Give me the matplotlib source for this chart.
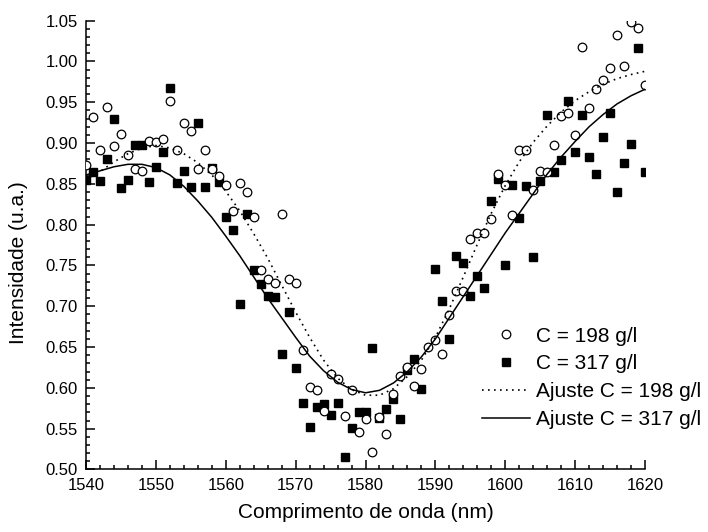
import matplotlib.pyplot as plt
from matplotlib.ticker import MultipleLocator
from matplotlib.lines import Line2D

plt.rcParams['font.family'] = ['Liberation Sans', 'DejaVu Sans']

# measured points, C = 198 g/l
wl_198 = [1540, 1541, 1542, 1543, 1544, 1545, 1546, 1547, 1548, 1549,
          1550, 1551, 1552, 1553, 1554, 1555, 1556, 1557, 1558, 1559,
          1560, 1561, 1562, 1563, 1564, 1565, 1566, 1567, 1568, 1569,
          1570, 1571, 1572, 1573, 1574, 1575, 1576, 1577, 1578, 1579,
          1580, 1581, 1582, 1583, 1584, 1585, 1586, 1587, 1588, 1589,
          1590, 1591, 1592, 1593, 1594, 1595, 1596, 1597, 1598, 1599,
          1600, 1601, 1602, 1603, 1604, 1605, 1606, 1607, 1608, 1609,
          1610, 1611, 1612, 1613, 1614, 1615, 1616, 1617, 1618, 1619,
          1620]
int_198 = [0.873, 0.932, 0.892, 0.944, 0.896, 0.911, 0.885, 0.868, 0.866, 0.903,
           0.901, 0.905, 0.951, 0.892, 0.925, 0.915, 0.868, 0.892, 0.868, 0.860,
           0.849, 0.817, 0.851, 0.840, 0.810, 0.745, 0.734, 0.728, 0.813, 0.733,
           0.729, 0.646, 0.601, 0.597, 0.572, 0.617, 0.611, 0.565, 0.598, 0.546,
           0.562, 0.521, 0.564, 0.543, 0.593, 0.615, 0.625, 0.602, 0.623, 0.650,
           0.659, 0.642, 0.689, 0.719, 0.719, 0.783, 0.790, 0.790, 0.807, 0.862,
           0.849, 0.812, 0.892, 0.892, 0.843, 0.866, 0.864, 0.898, 0.933, 0.937,
           0.910, 1.018, 0.943, 0.966, 0.977, 0.992, 1.032, 0.994, 1.048, 1.041,
           0.971]

# measured points, C = 317 g/l
wl_317 = [1540, 1541, 1542, 1543, 1544, 1545, 1546, 1547, 1548, 1549,
          1550, 1551, 1552, 1553, 1554, 1555, 1556, 1557, 1558, 1559,
          1560, 1561, 1562, 1563, 1564, 1565, 1566, 1567, 1568, 1569,
          1570, 1571, 1572, 1573, 1574, 1575, 1576, 1577, 1578, 1579,
          1580, 1581, 1582, 1583, 1584, 1585, 1586, 1587, 1588,
          1590, 1591, 1592, 1593, 1594, 1595, 1596, 1597, 1598, 1599,
          1600, 1601, 1602, 1603, 1604, 1605, 1606, 1607, 1608, 1609,
          1610, 1611, 1612, 1613, 1614, 1615, 1616, 1617, 1618, 1619,
          1620]
int_317 = [0.855, 0.865, 0.854, 0.880, 0.929, 0.845, 0.855, 0.898, 0.898, 0.852,
           0.871, 0.889, 0.967, 0.851, 0.866, 0.846, 0.925, 0.846, 0.870, 0.852,
           0.809, 0.794, 0.703, 0.813, 0.744, 0.727, 0.713, 0.711, 0.642, 0.693,
           0.624, 0.581, 0.552, 0.576, 0.580, 0.567, 0.581, 0.515, 0.551, 0.570,
           0.570, 0.649, 0.563, 0.574, 0.586, 0.562, 0.622, 0.635, 0.599,
           0.746, 0.706, 0.660, 0.762, 0.753, 0.712, 0.737, 0.723, 0.829, 0.856,
           0.750, 0.849, 0.808, 0.847, 0.761, 0.854, 0.934, 0.864, 0.879, 0.952,
           0.889, 0.935, 0.883, 0.862, 0.907, 0.937, 0.840, 0.875, 0.899, 1.016,
           0.864]

# fitted curves
fit_wl = [1540, 1542, 1544, 1546, 1548, 1550, 1552, 1554, 1556, 1558,
          1560, 1562, 1564, 1566, 1568, 1570, 1572, 1574, 1576, 1578,
          1580, 1582, 1584, 1586, 1588, 1590, 1592, 1594, 1596, 1598,
          1600, 1602, 1604, 1606, 1608, 1610, 1612, 1614, 1616, 1618,
          1620]
fit_198 = [0.855, 0.865, 0.877, 0.887, 0.894, 0.897, 0.894, 0.887, 0.876, 0.861,
           0.841, 0.817, 0.789, 0.759, 0.726, 0.693, 0.662, 0.634, 0.612, 0.598,
           0.591, 0.591, 0.599, 0.614, 0.634, 0.662, 0.697, 0.736, 0.776, 0.814,
           0.848, 0.877, 0.901, 0.921, 0.938, 0.952, 0.963, 0.972, 0.979, 0.984,
           0.988]
fit_317 = [0.861, 0.866, 0.871, 0.874, 0.874, 0.870, 0.861, 0.847, 0.829, 0.809,
           0.786, 0.762, 0.736, 0.710, 0.686, 0.662, 0.639, 0.621, 0.607, 0.598,
           0.594, 0.597, 0.606, 0.620, 0.638, 0.660, 0.686, 0.712, 0.738, 0.764,
           0.790, 0.814, 0.838, 0.862, 0.883, 0.902, 0.920, 0.935, 0.948, 0.958,
           0.966]

labels = ['C = 198 g/l', 'C = 317 g/l', 'Ajuste C = 198 g/l', 'Ajuste C = 317 g/l']

fig = plt.figure(figsize=(7.08, 5.32), dpi=100)
ax = fig.add_axes([0.1215, 0.1175, 0.7895, 0.8436])

ax.plot(wl_317, int_317, ls='none', marker='s', ms=5.4, mfc='black', mec='black', zorder=2)
ax.plot(wl_198, int_198, ls='none', marker='o', ms=6.2, mfc='white', mec='black', mew=0.9, zorder=3)
ax.plot(fit_wl, fit_198, color='black', lw=1.2, ls=(0, (1, 2.6)), zorder=4)
ax.plot(fit_wl, fit_317, color='black', lw=1.1, ls='-', zorder=4)

ax.set_xlim(1540, 1620)
ax.set_ylim(0.50, 1.05)
ax.xaxis.set_major_locator(MultipleLocator(10))
ax.xaxis.set_minor_locator(MultipleLocator(2))
ax.yaxis.set_major_locator(MultipleLocator(0.05))
ax.yaxis.set_minor_locator(MultipleLocator(0.01))
ax.yaxis.set_major_formatter(plt.FormatStrFormatter('%.2f'))

for side in ['top', 'right']:
    ax.spines[side].set_visible(False)
for side in ['left', 'bottom']:
    ax.spines[side].set_linewidth(1.1)

ax.tick_params(which='both', direction='in', top=False, right=False, width=1.1, labelsize=12)
ax.tick_params(which='major', length=6.5, pad=6)
ax.tick_params(which='minor', length=3.2)

ax.set_xlabel('Comprimento de onda (nm)', fontsize=15)
ax.set_ylabel('Intensidade (u.a.)', fontsize=15)
ax.xaxis.set_label_coords(0.5, -0.075)
ax.yaxis.set_label_coords(-0.104, 0.46)

handles = [
    Line2D([], [], ls='none', marker='o', ms=6.2, mfc='white', mec='black', mew=0.9),
    Line2D([], [], ls='none', marker='s', ms=5.4, mfc='black', mec='black'),
    Line2D([], [], color='black', lw=1.2, ls=(0, (1, 2.6))),
    Line2D([], [], color='black', lw=1.1, ls='-'),
]
fig.legend(handles, labels, loc='upper left', bbox_to_anchor=(0.681, 0.386),
           frameon=False, fontsize=15, handlelength=2.3, handletextpad=0.3,
           labelspacing=0.42, borderpad=0, borderaxespad=0, numpoints=1)

fig.savefig('out.png', dpi=100)
